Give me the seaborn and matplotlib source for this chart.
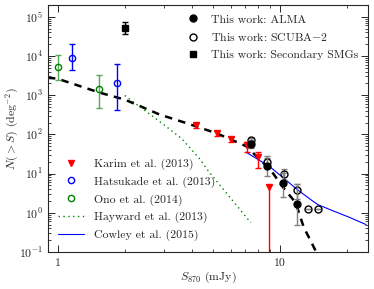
import seaborn as sns
import matplotlib
matplotlib.use("Agg")
import matplotlib.pyplot as plt
import numpy as np
import pandas as pd
from matplotlib.lines import Line2D
from matplotlib.ticker import FuncFormatter, NullFormatter

# data
alma_s = [7.4, 8.8, 10.3, 11.9]
alma_n = [56, 15.5, 5.8, 1.7]
alma_lo = [12, 7, 3.3, 1.2]
alma_hi = [14, 13, 4.5, 3.7]

scuba_s = [7.4, 8.8, 10.4, 11.9, 13.4, 14.8]
scuba_n = [70, 19.5, 9.7, 3.8, 1.26, 1.26]
scuba_lo = [12, 5, 3, 1.5, 0, 0]
scuba_hi = [12, 6, 3.5, 1.6, 0, 0]

sec_s = [2.0]
sec_n = [5.1e4]
sec_lo = [1.5e4]
sec_hi = [2.2e4]

karim_s = [4.2, 5.2, 6.0, 7.1, 8.0, 8.9]
karim_n = [170, 106, 75, 53, 26, 4.5]
karim_lo = [25, 16, 12, 18, 12, 4.45]
karim_hi = [20, 14, 10, 10, 9, 0.5]

hats_s = [1.16, 1.84]
hats_n = [8.9e3, 2.0e3]
hats_lo = [4.5e3, 1.57e3]
hats_hi = [1.1e4, 4.3e3]

ono_s = [1.0, 1.53]
ono_n = [5.3e3, 1.45e3]
ono_lo = [2.8e3, 970]
ono_hi = [5.4e3, 1.85e3]

fit_s = [0.90, 0.99, 1.54, 2.0, 2.87, 3.83, 5.2, 7.05, 9.1, 10.4, 11.8, 12.8, 14.6]
fit_n = [2770, 2650, 1160, 770, 321, 190, 106, 50, 12.3, 4.3, 1.8, 0.44, 0.1]

hay_s = [2.0, 2.95, 3.6, 4.33, 4.8, 7.4]
hay_n = [980, 190, 79, 24.6, 11, 0.56]

cow_s = [7.05, 8.95, 10.4, 11.9, 13.9, 14.9, 17.4, 20.8, 24.5]
cow_n = [35, 15.5, 7.7, 4.05, 2.1, 1.6, 1.12, 0.75, 0.5]

sns.set_style("ticks")
plt.rcParams["font.family"] = ["cmr10"]
plt.rcParams["mathtext.fontset"] = "cm"
plt.rcParams["axes.formatter.use_mathtext"] = True
plt.rcParams["font.size"] = 8.5
plt.rcParams["xtick.direction"] = "in"
plt.rcParams["ytick.direction"] = "in"

fig = plt.figure(figsize=(3.74, 2.89), dpi=100)
ax = fig.add_axes([0.128, 0.128, 0.856, 0.855])

sns.lineplot(x=fit_s, y=fit_n, ax=ax, color="black", lw=1.8, sort=False,
             estimator=None, linestyle=(0, (3, 2.5)))
sns.lineplot(x=hay_s, y=hay_n, ax=ax, color="green", lw=1, sort=False,
             estimator=None, linestyle=(0, (1, 2.5, 1, 2.5)))
sns.lineplot(x=cow_s, y=cow_n, ax=ax, color="blue", lw=0.8, sort=False,
             estimator=None)

ax.errorbar(karim_s, karim_n, yerr=[karim_lo, karim_hi], fmt="v", color="red",
            ms=4.5, capsize=2.5, elinewidth=1, zorder=3)
ax.errorbar(hats_s, hats_n, yerr=[hats_lo, hats_hi], fmt="o", mfc="none",
            mec="blue", color="blue", ms=4.5, capsize=2, elinewidth=1)
ax.errorbar(ono_s, ono_n, yerr=[ono_lo, ono_hi], fmt="o", mfc="none",
            mec="green", color="green", ms=4.5, capsize=2, elinewidth=1,
            ecolor="#55aa55")
ax.errorbar(scuba_s, scuba_n, yerr=[scuba_lo, scuba_hi], fmt="o", mfc="none",
            mec="black", ecolor="gray", ms=5, capsize=2.5, elinewidth=1, zorder=4)
ax.errorbar(alma_s, alma_n, yerr=[alma_lo, alma_hi], fmt="o", color="black",
            ecolor="gray", ms=5, capsize=2.5, elinewidth=1, zorder=5)
ax.errorbar(sec_s, sec_n, yerr=[sec_lo, sec_hi], fmt="s", color="black",
            ecolor="black", ms=4.5, capsize=2.5, elinewidth=1, zorder=5)

ax.set_xscale("log")
ax.set_yscale("log")
ax.set_xlim(0.9, 25)
ax.set_ylim(0.1, 2e5)
ax.xaxis.set_major_formatter(FuncFormatter(lambda v, p: "%g" % v))
ax.xaxis.set_minor_formatter(NullFormatter())
ax.tick_params(which="both", top=True, right=True)
ax.tick_params(which="major", length=5, width=0.7)
ax.tick_params(which="minor", length=2.5, width=0.6)
ax.tick_params(axis="x", pad=5)
ax.set_xlabel("$S_{870}$ (mJy)", labelpad=1)
ax.set_ylabel("$N(>S)$ (deg$^{-2}$)")
ax.yaxis.set_label_coords(-0.085, 0.5)

h1 = [Line2D([], [], marker="o", ls="none", color="black", ms=5),
      Line2D([], [], marker="o", ls="none", mfc="none", mec="black", ms=5),
      Line2D([], [], marker="s", ls="none", color="black", ms=4.5)]
l1 = ["This work: ALMA", "This work: SCUBA$-$2", "This work: Secondary SMGs"]
leg1 = ax.legend(h1, l1, loc="upper right", frameon=False, handlelength=1.5,
                 labelspacing=0.55, borderaxespad=0.4, fontsize=8.5)
ax.add_artist(leg1)

h2 = [Line2D([], [], marker="v", ls="none", color="red", ms=4.5),
      Line2D([], [], marker="o", ls="none", mfc="none", mec="blue", ms=4.5),
      Line2D([], [], marker="o", ls="none", mfc="none", mec="green", ms=4.5),
      Line2D([], [], color="green", lw=1, ls=(0, (1, 2.5, 1, 2.5))),
      Line2D([], [], color="blue", lw=0.8)]
l2 = ["Karim et al. (2013)", "Hatsukade et al. (2013)", "Ono et al. (2014)",
      "Hayward et al. (2013)", "Cowley et al. (2015)"]
ax.legend(h2, l2, loc="lower left", bbox_to_anchor=(0.0, 0.0), frameon=False,
          handlelength=2.2, labelspacing=0.55, fontsize=8.5)

fig.savefig("out.png", dpi=100)
